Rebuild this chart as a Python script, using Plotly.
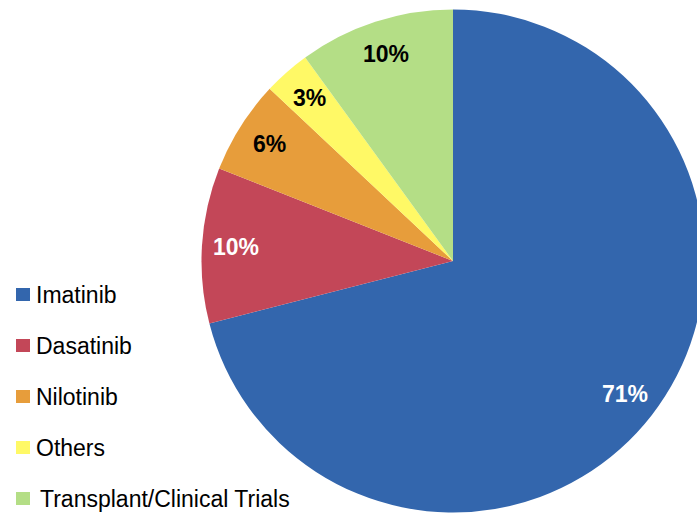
import math
import plotly.graph_objects as go

# Share of patients by first treatment
categories = ["Imatinib", "Dasatinib", "Nilotinib", "Others", "Transplant/Clinical Trials"]
shares = [71, 10, 6, 3, 10]
slice_colors = ["#3366AD", "#C34758", "#E79D3B", "#FFF966", "#B4DE86"]
label_colors = ["white", "white", "black", "black", "black"]

# Canvas (pixels); the pie runs past the right-hand edge of the visible page
W, H = 720, 515
CX, CY, R = 453.0, 261.0, 251.5

NARROW = "Liberation Sans Narrow, Arial Narrow, Liberation Sans, Arial, sans-serif"


def px(x):
    return x / W


def py(y):
    return 1 - y / H


fig = go.Figure(
    go.Pie(
        labels=categories,
        values=shares,
        sort=False,
        direction="clockwise",
        rotation=0,
        marker=dict(colors=slice_colors, line=dict(width=0)),
        textinfo="none",
        hoverinfo="label+percent",
        showlegend=False,
        domain=dict(x=[px(CX - R), px(CX + R)], y=[py(CY + R), py(CY - R)]),
    )
)

# Percentage labels placed along each slice's mid-angle
annotations = []
total = sum(shares)
cum = 0
for val, col in zip(shares, label_colors):
    mid = 2 * math.pi * (cum + val / 2) / total
    cum += val
    lx = CX + 0.865 * R * math.sin(mid)
    ly = CY - 0.865 * R * math.cos(mid)
    annotations.append(
        dict(
            x=px(lx), y=py(ly), xref="paper", yref="paper",
            text=f"<b>{round(100 * val / total)}%</b>",
            showarrow=False, xanchor="center", yanchor="middle",
            font=dict(family=NARROW, size=23, color=col),
        )
    )

# Legend: coloured squares with the category names
shapes = []
ROW0, STEP = 288.0, 51.0
text_shift = [0, 0, 0, 0, 4]
for i, (name, col) in enumerate(zip(categories, slice_colors)):
    top = ROW0 + STEP * i
    shapes.append(
        dict(type="rect", xref="paper", yref="paper",
             x0=px(16), x1=px(30), y0=py(top + 13), y1=py(top),
             fillcolor=col, line=dict(width=0))
    )
    annotations.append(
        dict(
            x=px(34), y=py(top + 7), xref="paper", yref="paper",
            text=name, showarrow=False, xanchor="left", yanchor="middle",
            xshift=text_shift[i],
            font=dict(family=NARROW, size=23, color="black"),
        )
    )

fig.update_layout(
    width=W, height=H,
    margin=dict(l=0, r=0, t=0, b=0),
    paper_bgcolor="white",
    plot_bgcolor="white",
    annotations=annotations,
    shapes=shapes,
)

fig.write_html(
    "out.html",
    post_script="document.documentElement.style.overflow='hidden';document.body.style.overflow='hidden';",
)
